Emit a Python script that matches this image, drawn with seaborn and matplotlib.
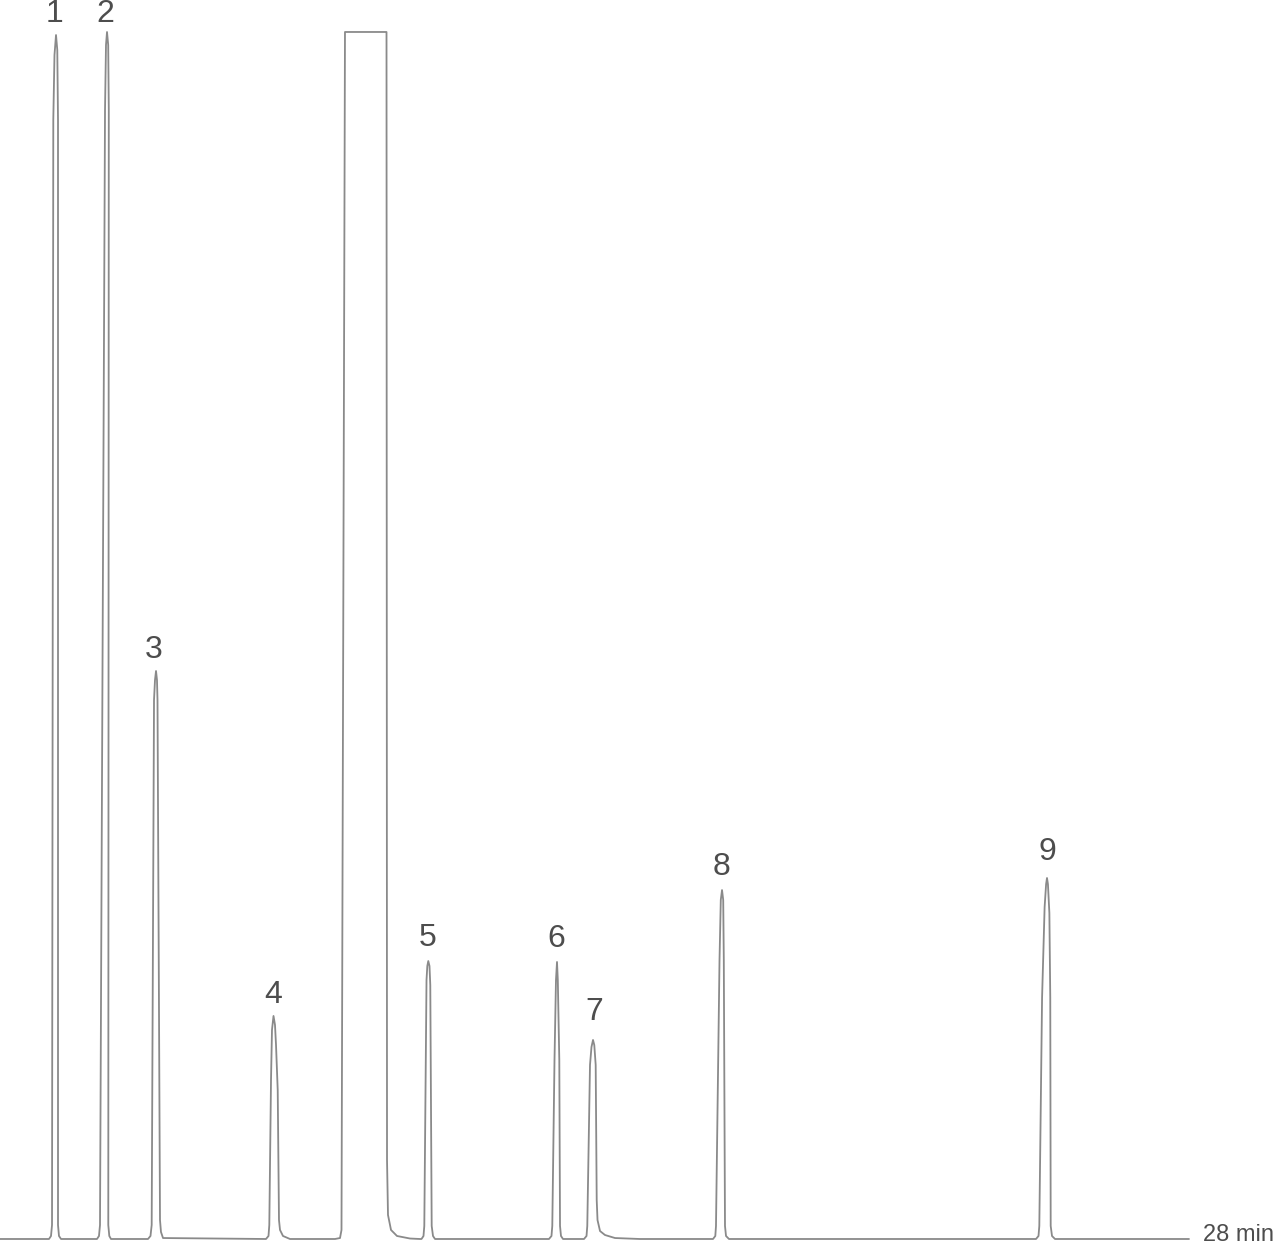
import matplotlib
matplotlib.use("Agg")
import matplotlib.pyplot as plt
import pandas as pd
import seaborn as sns

# Chromatogram trace: retention time (min) and relative response (%)
TIME = [
    0.000,
    # peak 1
    1.154, 1.201, 1.225, 1.255, 1.283, 1.319, 1.349, 1.366, 1.366, 1.389, 1.437,
    # peak 2
    2.284, 2.331, 2.355, 2.473, 2.496, 2.520, 2.548, 2.562, 2.550, 2.574, 2.614,
    # peak 3
    3.485, 3.544, 3.572, 3.627, 3.650, 3.674, 3.697, 3.709, 3.768, 3.791, 3.839,
    # peak 4
    6.264, 6.323, 6.342, 6.382, 6.405, 6.441, 6.476, 6.500, 6.540, 6.570, 6.594, 6.664, 6.829,
    # solvent (off scale)
    7.889, 8.007, 8.042, 8.124, 9.102, 9.114, 9.137, 9.208, 9.349, 9.655, 9.891,
    # peak 5
    9.926, 9.973, 9.992, 10.044, 10.063, 10.086, 10.114, 10.133, 10.166, 10.197, 10.244,
    # peak 6
    12.928, 12.987, 13.006, 13.058, 13.093, 13.117, 13.136, 13.171, 13.188, 13.211, 13.258,
    # peak 7
    13.753, 13.812, 13.830, 13.894, 13.929, 13.965, 13.995, 14.028, 14.052, 14.071, 14.130,
    14.247, 14.483, 15.071,
    # peak 8
    16.791, 16.845, 16.861, 16.944, 16.974, 17.003, 17.031, 17.045, 17.073, 17.097, 17.167,
    # peak 9
    24.397, 24.456, 24.475, 24.540, 24.600, 24.635, 24.656, 24.678, 24.712, 24.733, 24.743,
    24.774, 24.844,
    28.000,
]
SIGNAL = [
    0.00,
    0.00, 0.25, 1.16, 92.71, 98.09, 99.75, 98.51, 92.71, 1.16, 0.25, 0.00,
    0.00, 0.25, 1.16, 93.54, 98.92, 100.00, 98.92, 93.54, 1.16, 0.25, 0.00,
    0.00, 0.25, 1.16, 44.66, 46.31, 47.06, 46.31, 44.66, 1.57, 0.58, 0.08,
    0.00, 0.25, 1.16, 13.17, 17.32, 18.48, 17.73, 16.07, 12.34, 1.57, 0.75, 0.25, 0.00,
    0.00, 0.08, 0.75, 100.00, 100.00, 6.55, 1.99, 0.75, 0.25, 0.04, 0.00,
    0.00, 0.25, 1.08, 21.46, 22.62, 23.03, 22.62, 21.04, 1.08, 0.25, 0.00,
    0.00, 0.25, 1.08, 14.83, 21.46, 22.95, 21.46, 14.83, 1.08, 0.25, 0.00,
    0.00, 0.25, 1.08, 14.42, 15.91, 16.49, 16.07, 14.42, 3.23, 1.57, 0.66,
    0.33, 0.08, 0.00,
    0.00, 0.25, 1.08, 23.12, 28.09, 28.91, 28.09, 23.12, 1.08, 0.25, 0.00,
    0.00, 0.25, 1.08, 20.00, 27.50, 29.40, 29.91, 29.40, 27.00, 20.00, 1.08,
    0.25, 0.00,
    0.00,
]

# Peak numbers and where they sit
PEAK_LABELS = ["1", "2", "3", "4", "5", "6", "7", "8", "9"]
LABEL_TIME = [1.272, 2.473, 3.627, 6.429, 10.079, 13.093, 13.988, 16.979, 24.656]
LABEL_SIGNAL = [101.49, 101.49, 48.80, 20.22, 24.94, 24.86, 18.81, 30.82, 32.06]

END_TIME = 28
END_LABEL = f"{END_TIME} min"

LINE_COLOR = "#8a8a8a"
TEXT_COLOR = "#4d4d4d"

sns.set_style("white")
plt.rcParams["font.family"] = ["Liberation Sans", "DejaVu Sans"]

df = pd.DataFrame({"time": TIME, "signal": SIGNAL})

fig = plt.figure(figsize=(12.8, 12.47), dpi=100)
ax = fig.add_axes([0, 0, 1, 1])
sns.lineplot(data=df, x="time", y="signal", sort=False, estimator=None,
             color=LINE_COLOR, linewidth=1.3, ax=ax)

for lab, t, s in zip(PEAK_LABELS, LABEL_TIME, LABEL_SIGNAL):
    ax.text(t, s, lab, ha="center", va="center", fontsize=23, color=TEXT_COLOR)

ax.text(END_TIME + 0.33, 0.3, END_LABEL, ha="left", va="center",
        fontsize=17, color=TEXT_COLOR)

ax.set_xlim(0, 30.143)
ax.set_ylim(-0.663, 102.65)
ax.set_axis_off()

fig.savefig("out.png", dpi=100)
plt.close(fig)
